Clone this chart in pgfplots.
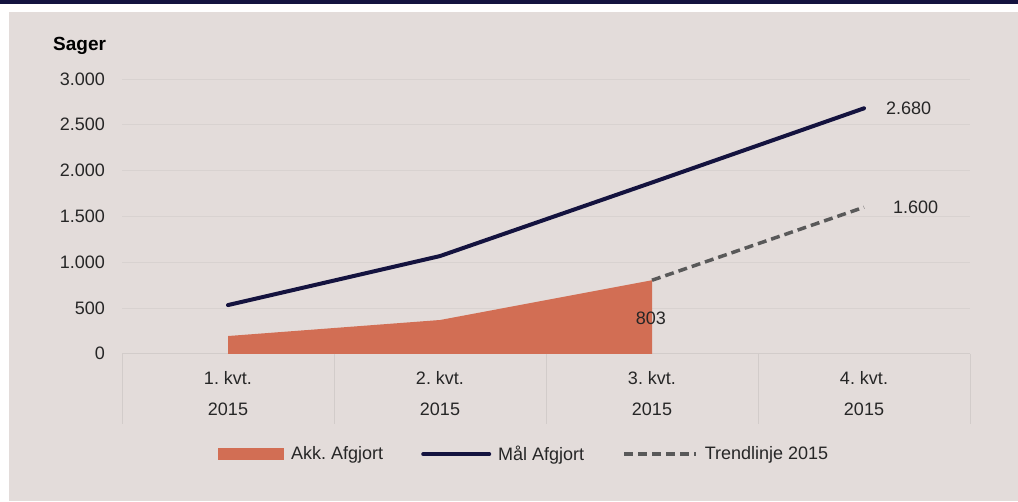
\documentclass[border=0pt]{standalone}
\usepackage{pgfplots}
\pgfplotsset{compat=1.18}
\usepackage{fontspec}
\setmainfont{Liberation Sans}
\frenchspacing
\definecolor{bg}{HTML}{E3DCDA}
\definecolor{navy}{HTML}{14133F}
\definecolor{akk}{HTML}{D26E54}
\definecolor{trend}{HTML}{595959}
\definecolor{gridc}{HTML}{D8D2D0}
\definecolor{sepc}{HTML}{D2CCCA}
\definecolor{txt}{HTML}{262626}
\begin{document}
\begin{tikzpicture}[x=1pt,y=1pt]
\useasboundingbox (0,0) rectangle (1018,501);
\fill[white] (0,0) rectangle (1018,501);
\fill[bg] (9,0) rectangle (1018,489);
\fill[navy] (0,497) rectangle (1018,501);
\node[anchor=west, font=\fontsize{19}{22}\selectfont\bfseries, text=black, inner sep=0pt] at (53,455) {Sager};
\begin{axis}[
  at={(122pt,147.2pt)}, anchor=south west,
  scale only axis, width=848pt, height=274.8pt,
  xmin=-0.5, xmax=3.5, ymin=0, ymax=3000,
  clip=false,
  axis x line*=bottom, axis y line*=left,
  axis line style={-},
  x axis line style={draw=sepc, line width=0.8pt},
  y axis line style={draw=none},
  ytick={0,500,...,3000},
  ymajorgrids, grid style={gridc, line width=0.8pt},
  major tick length=0pt,
  tick style={draw=none},
  xtick={0,1,2,3},
  xticklabels={{1. kvt.\\2015},{2. kvt.\\2015},{3. kvt.\\2015},{4. kvt.\\2015}},
  xticklabel style={align=center, font=\fontsize{18}{31}\selectfont, text=txt, anchor=north, inner sep=0pt, yshift=-17.5pt},
  yticklabel style={font=\fontsize{18}{21}\selectfont, text=txt, anchor=east, inner sep=0pt, xshift=-17pt},
  /pgf/number format/assume math mode=true,
  /pgf/number format/1000 sep={.},
  legend columns=3,
  legend style={at={(axis description cs:0.1132,-0.365)}, anchor=west, draw=none, fill=none, inner sep=0pt,
    font=\fontsize{18}{21}\selectfont, text=txt,
    /tikz/every odd column/.append style={column sep=5pt},
    /tikz/every even column/.append style={column sep=36pt}},
]
\addplot[fill=akk, draw=none,
  legend image code/.code={\fill[akk] (0pt,-6pt) rectangle (66pt,6pt);}]
  coordinates {(0,194) (1,369) (2,803)} \closedcycle;
\addlegendentry{Akk. Afgjort}
\addplot[navy, line width=4pt, line cap=round, line join=round,
  legend image code/.code={\draw[navy, line width=4pt, line cap=round] (2pt,0pt) -- (68pt,0pt);}]
  coordinates {(0,532) (1,1067) (2,1870) (3,2680)};
\addlegendentry{Mål Afgjort}
\addplot[trend, line width=3.5pt, dash pattern=on 9pt off 5pt,
  legend image code/.code={\draw[trend, line width=3.5pt, dash pattern=on 9pt off 5pt] (0pt,0pt) -- (72pt,0pt);}]
  coordinates {(2,803) (3,1600)};
\addlegendentry{Trendlinje 2015}
\pgfplotsinvokeforeach{-0.5,0.5,1.5,2.5,3.5}{
  \draw[sepc, line width=0.8pt] (axis cs:#1,0) -- ++(0pt,-70pt);
}
\node[font=\fontsize{18}{21}\selectfont, text=txt, inner sep=0pt] at (axis cs:1.995,390) {803};
\node[font=\fontsize{18}{21}\selectfont, text=txt, inner sep=0pt, anchor=west, xshift=22pt] at (axis cs:3,2680) {2.680};
\node[font=\fontsize{18}{21}\selectfont, text=txt, inner sep=0pt, anchor=west, xshift=29pt] at (axis cs:3,1600) {1.600};
\end{axis}
\end{tikzpicture}
\end{document}
